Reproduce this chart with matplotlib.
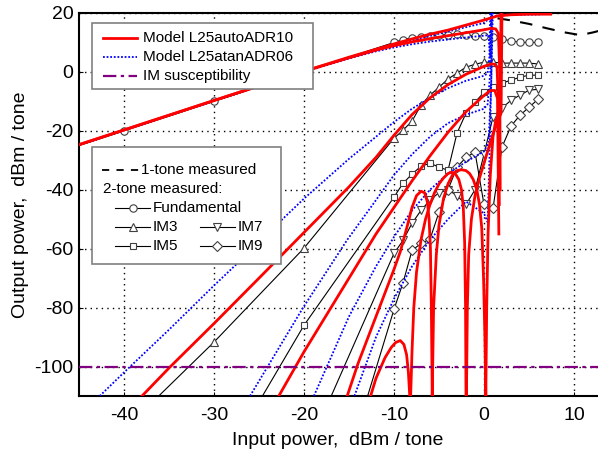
import matplotlib
matplotlib.use('Agg')
import matplotlib.pyplot as plt
from matplotlib.patches import Rectangle

plt.rcParams['font.family'] = ['Liberation Sans', 'DejaVu Sans']
plt.rcParams['axes.unicode_minus'] = False

# ---------------- measured data ----------------
pin_hi = [-10, -9, -8, -7, -6, -5, -4, -3, -2, -1, 0, 1, 2, 3, 4, 5, 6]
fund_x = [-50, -40, -30, -20] + pin_hi
fund_y = [-30, -20, -10, 0, 10.0, 11.0, 11.5, 11.9, 12.2, 12.5, 12.7, 12.9, 12.5, 12.2,
          12.2, 11.7, 11.1, 10.6, 10.0, 10.0, 10.0]
im3_x = [-40, -30, -20] + pin_hi
im3_y = [-121.5, -91.7, -59.8, -22.5, -19.8, -16.7, -11.3, -7.9, -5.2, -2.4, -0.4, 1.6,
         2.6, 3.3, 3.3, 3.0, 3.0, 3.0, 3.0, 2.7]
im5_x = [-30, -20] + pin_hi
im5_y = [-138, -86, -42.5, -37.8, -34.7, -32.0, -31.0, -32.3, -33.4, -20.8, -14.0, -10.3,
         -6.9, -5.2, -3.8, -2.8, -1.8, -1.1, -1.1]
im7_x = [-20] + pin_hi
im7_y = [-131, -61.6, -57.2, -51.4, -47.0, -43.5, -41.0, -40.0, -42.0, -45.0, -40.0, -28.0,
         -15.3, -12.3, -9.6, -7.9, -6.2, -5.9]
im9_x = [-20] + pin_hi
im9_y = [-181, -80.6, -71.6, -60.6, -58.2, -56.8, -47.6, -40.0, -32.3, -29.0, -27.2, -45.0,
         -46.3, -25.5, -18.4, -14.7, -12.0, -9.3]
tone1_x = [1.5, 3.0, 5.0, 7.0, 9.0, 10.7, 12.1, 13.5]
tone1_y = [18.2, 17.5, 16.3, 14.8, 13.4, 12.5, 13.4, 14.5]

# ---------------- model L25autoADR10 (red) ----------------
r_f1_x = [-50, -40, -30, -20, -15, -12, -10, -8, -6, -4, -2, 0, 1.5, 3, 5, 7.4]
r_f1_y = [-29.7, -19.7, -9.7, 0.2, 5.0, 7.7, 9.5, 11.2, 12.8, 14.2, 15.9, 17.6, 19.0, 19.4, 19.6, 19.6]
r_f2_x = [-50, -40, -30, -20, -15, -12, -10, -8, -6, -4, -2, 0, 0.8, 1.3, 1.6, 1.75, 1.8]
r_f2_y = [-29.7, -19.7, -9.7, 0.2, 4.8, 7.4, 8.9, 10.2, 11.3, 12.3, 13.3, 14.3, 14.8, 14.6, 13, 0, -40]
r_im3_x = [-38, -35, -30, -25, -20, -15, -12, -10, -8, -6, -4, -2, 0, 0.8, 1.2, 1.45, 1.6, 1.7]
r_im3_y = [-110, -100.5, -85.4, -70, -54.5, -39, -29, -21.5, -14.5, -8.8, -4.3, -0.8, 1.9, 2.7, 2.6, 1.5, -10, -45]
r_im5_x = [-22.8, -20, -17, -15.8, -13.4, -12, -10, -8, -6, -4, -2, 0, 0.7, 1.2, 1.5, 1.65]
r_im5_y = [-110, -95, -80, -74, -62, -55, -46, -37, -28.5, -20.5, -13.5, -8.0, -6.3, -6.3, -9, -55]
r_im7_x = [-15.2, -14, -13, -12, -11, -10, -9.3, -8.5, -8, -7.5, -7.0, -6.6, -6.3, -6.1, -5.95, -5.85,
           -5.75, -5.6, -5.3, -5, -4.5, -4, -3.5, -3, -2.5, -2, -1.6, -1.2, -0.8, -0.5, -0.25, -0.05, 0.1, 0.2,
           0.3, 0.45, 0.7, 1.0, 1.3, 1.6, 1.8, 1.9]
r_im7_y = [-110, -99, -91, -83, -75, -67, -61, -52, -46, -42, -40.5, -41, -44, -50, -60, -80,
           -110, -80, -62, -52, -43, -38, -35, -33.5, -33.2, -33.5, -34.5, -36.5, -40, -45, -53, -70, -90, -110,
           -80, -55, -35, -22, -16.5, -15, -12, 22]
r_im9_x = [-12.6, -12.0, -11.0, -10.3, -9.8, -9.3, -8.9, -8.6, -8.4, -8.25, -8.15, -8.0, -7.8, -7.5, -7, -6.5,
           -6, -5.5, -5, -4.5, -4, -3.6, -3.2, -2.8, -2.5, -2.3, -2.15, -2.05, -2.0, -1.95, -1.85, -1.7, -1.4,
           -1, -0.5, 0, 0.5, 1.0, 1.5, 1.9, 2.0]
r_im9_y = [-110, -104, -97, -93.5, -91.8, -91.2, -92.5, -96, -102, -110, -110, -95, -80, -68, -57, -50,
           -45, -41, -38, -36, -34.5, -34, -34.5, -36.5, -40, -46, -58, -80, -110, -110, -80, -62, -50,
           -42, -36, -31, -26, -21, -17, -14, 22]

# ---------------- model L25atanADR06 (blue) ----------------
b_f1_x = [-50, -40, -30, -20, -15, -12, -10, -8, -6, -4, -2, 0, 0.7, 1.5, 4, 6.2]
b_f1_y = [-29.8, -19.8, -9.8, 0, 4.7, 7.3, 9.0, 10.7, 12.2, 13.7, 15.2, 16.6, 18.5, 19.2, 19.4, 19.5]
b_f2_x = [-50, -40, -30, -20, -15, -12, -10, -8, -6, -4, -2, 0, 0.5, 0.7, 0.8]
b_f2_y = [-29.8, -19.8, -9.8, 0, 4.6, 7.0, 8.3, 9.4, 10.3, 11.0, 11.7, 12.3, 12.5, 5, 22]
b_im3_x = [-42.7, -40, -35, -30, -25, -22.4, -20, -15, -12, -10, -8, -6, -4, -2, 0, 0.4, 0.6, 0.7]
b_im3_y = [-110, -102, -87.5, -72.5, -58, -50, -43, -29.5, -22, -17, -12.5, -8.8, -5.5, -3, -1.3, -0.5, 5, 22]
b_im5_x = [-26, -20.1, -15.2, -12, -10, -8, -6, -4, -2, 0, 0.4, 0.7, 0.8]
b_im5_y = [-110, -80, -57, -43.5, -35, -28, -22, -17.4, -14.5, -12.5, -11, 0, 22]
b_im7_x = [-18.9, -15, -12, -10, -8, -6, -4, -2, 0, 0.5, 0.8, 0.9]
b_im7_y = [-110, -83, -66, -56, -47, -40, -34.5, -30.5, -27, -24, -5, 22]
b_im9_x = [-14.4, -12, -10, -8, -6, -4, -2, 0, 0.4, 0.6, 1.0]
b_im9_y = [-110, -90, -77, -66, -57, -50, -44, -48, -51, -30, 22]

# IM susceptibility level
im_susc = -100

# ---------------- figure ----------------
W, H = 598, 461
fig = plt.figure(figsize=(W / 100, H / 100), dpi=100)
L, B, AW, AH = 79, 65, 540, 383
ax = fig.add_axes([L / W, B / H, AW / W, AH / H])
ax.set_xlim(-45, 15)
ax.set_ylim(-110, 20)
ax.set_xticks([-40, -30, -20, -10, 0, 10])
ax.set_yticks([20, 0, -20, -40, -60, -80, -100])
ax.grid(True, color='black', linestyle=(0, (1, 3)), linewidth=1.0)
ax.tick_params(direction='in', length=3, labelsize=14)
ax.tick_params(axis='x', pad=8)
ax.tick_params(axis='y', pad=4)
for s in ['left', 'bottom', 'top']:
    ax.spines[s].set_linewidth(1.5)
ax.spines['right'].set_visible(False)

MS = {'o': 5.3, '^': 5.8, 's': 4.6, 'v': 5.8, 'D': 4.8}
mk = dict(mfc='white', mec='#404040', mew=0.8, color='black', lw=0.8, zorder=3)
ax.plot(fund_x, fund_y, marker='o', ms=MS['o'], **mk)
ax.plot(im3_x, im3_y, marker='^', ms=MS['^'], **mk)
ax.plot(im5_x, im5_y, marker='s', ms=MS['s'], **mk)
ax.plot(im7_x, im7_y, marker='v', ms=MS['v'], **mk)
ax.plot(im9_x, im9_y, marker='D', ms=MS['D'], **mk)
ax.plot(tone1_x, tone1_y, color='black', lw=1.5, dashes=(6, 5), zorder=3)

bl = dict(color='#0000FF', lw=1.3, linestyle=(0, (1, 1)), zorder=4)
for xs, ys in [(b_f1_x, b_f1_y), (b_f2_x, b_f2_y), (b_im3_x, b_im3_y), (b_im5_x, b_im5_y),
               (b_im7_x, b_im7_y), (b_im9_x, b_im9_y)]:
    ax.plot(xs, ys, **bl)

rd = dict(color='#FF0000', lw=2.0, zorder=5)
for xs, ys in [(r_f1_x, r_f1_y), (r_f2_x, r_f2_y), (r_im3_x, r_im3_y), (r_im5_x, r_im5_y),
               (r_im7_x, r_im7_y), (r_im9_x, r_im9_y)]:
    ax.plot(xs, ys, **rd)

ax.axhline(im_susc, color='#800080', lw=1.6, dashes=(6, 2, 1.5, 2), zorder=6)

ax.set_xlabel('Input power,  dBm / tone', fontsize=14)
ax.set_ylabel('Output power,  dBm / tone', fontsize=14)
ax.xaxis.set_label_coords((338 - L) / AW, (396 - 432) / AH)
ax.yaxis.set_label_coords((29 - L) / AW, 0.5)


def P(px, py):
    return ((px - L) / AW, (396 - py) / AH)


def box(x0, y0, x1, y1):
    a = P(x0, y1)
    b = P(x1, y0)
    ax.add_patch(Rectangle(a, b[0] - a[0], b[1] - a[1], transform=ax.transAxes,
                           facecolor='white', edgecolor='#808080', lw=1.2, zorder=10))


def handle(x0, x1, y, **kw):
    a = P(x0, y)
    b = P(x1, y)
    ax.plot([a[0], b[0]], [a[1], b[1]], transform=ax.transAxes, zorder=11, clip_on=False, **kw)


def label(x, y, s):
    p = P(x, y)
    ax.text(p[0], p[1], s, transform=ax.transAxes, fontsize=11, va='center', ha='left', zorder=12)


# legend 1
box(92, 23, 313, 89)
handle(103, 137, 38, color='#FF0000', lw=2)
label(143, 38, 'Model L25autoADR10')
handle(103, 137, 57, color='#0000FF', lw=1.3, linestyle=(0, (1, 1)))
label(143, 57, 'Model L25atanADR06')
handle(103, 137, 76, color='#800080', lw=1.6, dashes=(6, 2, 1.5, 2))
label(143, 76, 'IM susceptibility')

# legend 2
box(92, 147, 281, 264)
handle(102, 139, 170, color='black', lw=1.3, dashes=(4, 4))
label(141, 170, '1-tone measured')
label(103, 189, '2-tone measured:')
lk = dict(color='black', lw=0.8)
for (x0, x1, y, m, txt) in [(115, 150, 208, 'o', 'Fundamental'), (115, 150, 227, '^', 'IM3'),
                            (115, 150, 246, 's', 'IM5'), (200, 235, 227, 'v', 'IM7'),
                            (200, 235, 246, 'D', 'IM9')]:
    handle(x0, x1, y, **lk)
    p = P((x0 + x1) / 2, y)
    ax.plot([p[0]], [p[1]], transform=ax.transAxes, marker=m, mfc='white', mec='#404040',
            mew=0.8, ms=MS[m], zorder=12, clip_on=False)
    label(x1 + 3, y, txt)

fig.savefig('out.png', dpi=100)
